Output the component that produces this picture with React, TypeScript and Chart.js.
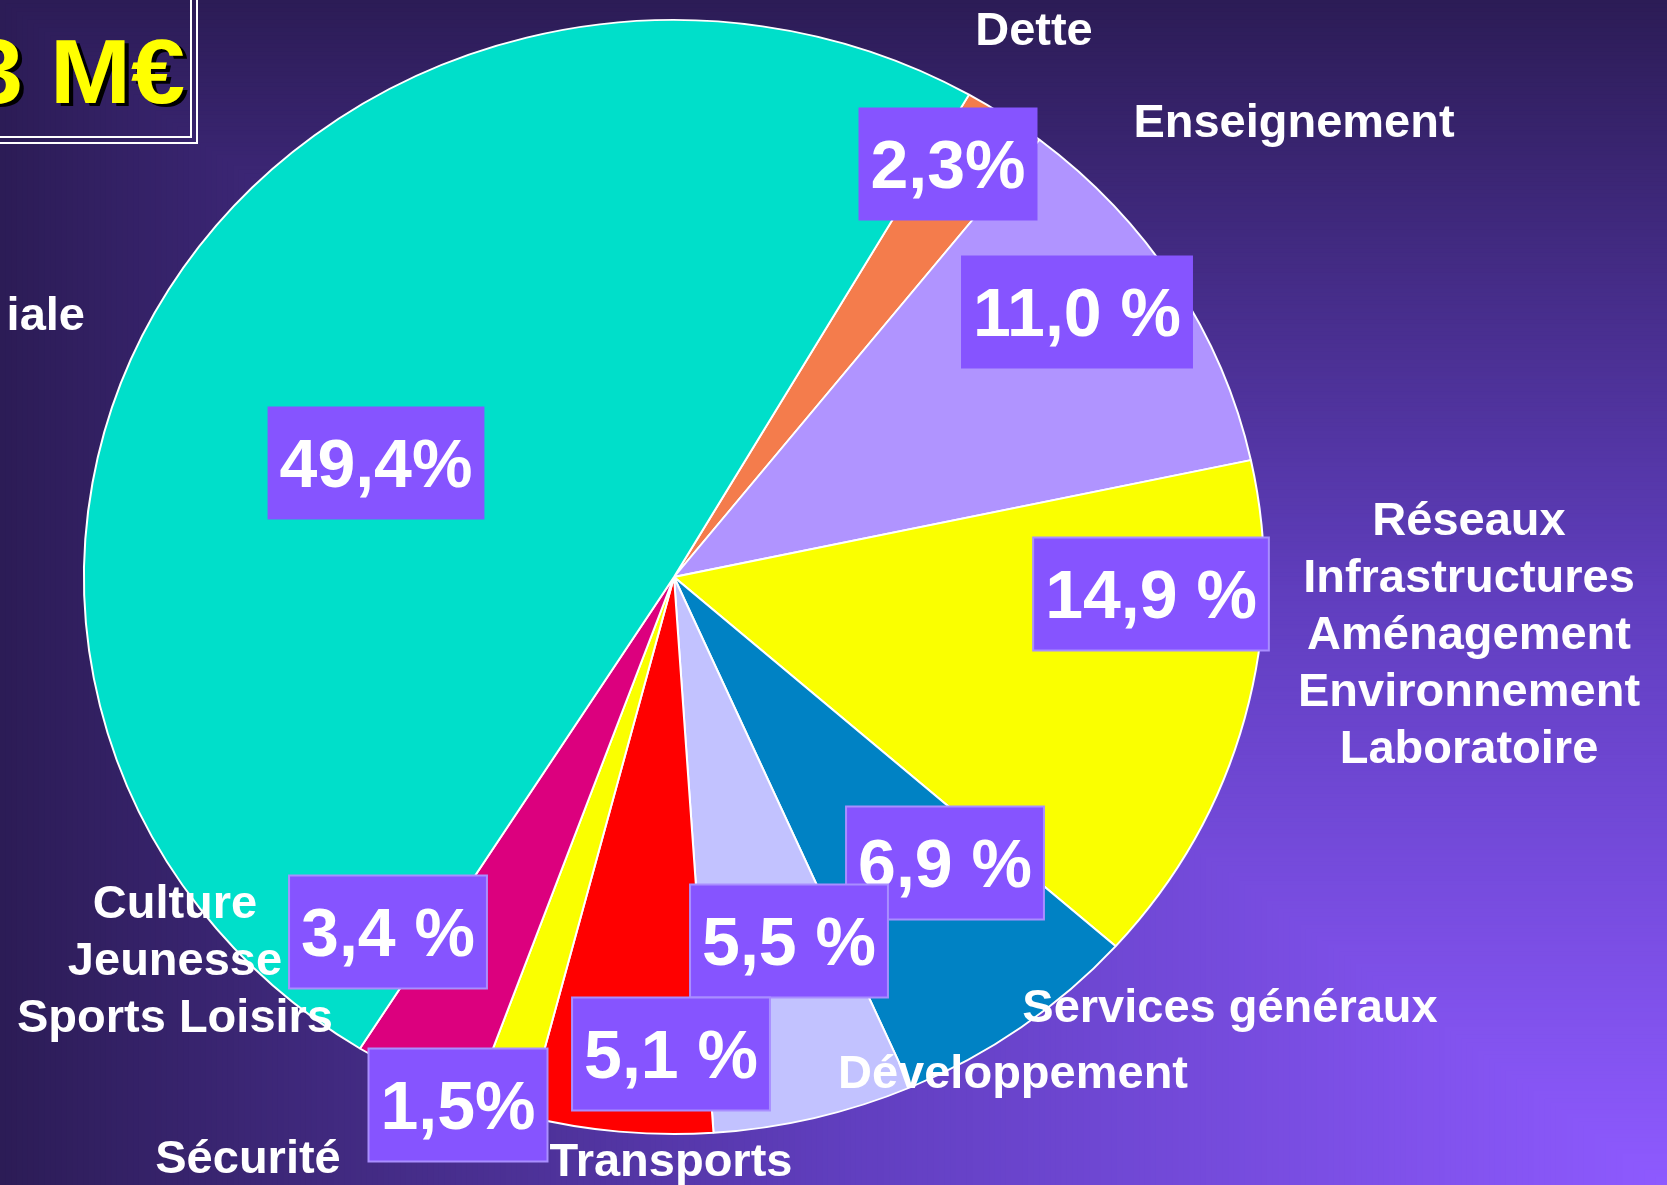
import React, { useEffect, useRef } from "react";
import { Chart, registerables } from "chart.js";

Chart.register(...registerables);

// ---- data ----
const categories = [
  "Dette",
  "Enseignement",
  "Réseaux Infrastructures Aménagement Environnement Laboratoire",
  "Services généraux",
  "Développement",
  "Transports",
  "Sécurité",
  "Culture Jeunesse Sports Loisirs",
  "iale",
];
const shares = [2.3, 11.0, 14.9, 6.9, 5.5, 5.1, 1.5, 3.4, 49.4];
const shareLabels = ["2,3%", "11,0 %", "14,9 %", "6,9 %", "5,5 %", "5,1 %", "1,5%", "3,4 %", "49,4%"];
const categoryLines = [
  ["Dette"],
  ["Enseignement"],
  ["Réseaux", "Infrastructures", "Aménagement", "Environnement", "Laboratoire"],
  ["Services généraux"],
  ["Développement"],
  ["Transports"],
  ["Sécurité"],
  ["Culture", "Jeunesse", "Sports Loisirs"],
  ["iale"],
];
const sliceColors = ["#F47C4C", "#B094FF", "#FAFF00", "#0082C4", "#C2C2FF", "#FF0000", "#FAFF00", "#DC007E", "#00DFCA"];
const titleText = "3 M€";

// ---- layout (styles/positions of annotations) ----
const W = 1667;
const H = 1185;
const PIE_CX = 674;
const PIE_CY = 577;
const PIE_RX = 590;
const PIE_RY = 557;
const FONT = '"Liberation Sans", Arial, sans-serif';
const catLayout = [
  { x: 1034, y: 45, align: "center" },
  { x: 1294, y: 137, align: "center" },
  { x: 1469, y: 535, align: "center" },
  { x: 1230, y: 1022, align: "center" },
  { x: 1013, y: 1088, align: "center" },
  { x: 671, y: 1176, align: "center" },
  { x: 248, y: 1173, align: "center" },
  { x: 175, y: 918, align: "center" },
  { x: 85, y: 330, align: "right" },
];
const boxLayout = [
  { x: 948, y: 164, border: false },
  { x: 1077, y: 312, border: false },
  { x: 1151, y: 594, border: true },
  { x: 945, y: 863, border: true },
  { x: 789, y: 941, border: true },
  { x: 671, y: 1054, border: true },
  { x: 458, y: 1105, border: true },
  { x: 388, y: 932, border: true },
  { x: 376, y: 463, border: false },
];
const boxOrder = [8, 0, 1, 2, 7, 3, 4, 5, 6];

function bgColor(t: number): string {
  const c0 = [142, 90, 255];
  const c1 = [96, 62, 190];
  const c2 = [44, 28, 86];
  let a, b, u;
  if (t < 0.5) { a = c0; b = c1; u = t / 0.5; } else { a = c1; b = c2; u = (t - 0.5) / 0.5; }
  const r = Math.round(a[0] + (b[0] - a[0]) * u);
  const g = Math.round(a[1] + (b[1] - a[1]) * u);
  const bl = Math.round(a[2] + (b[2] - a[2]) * u);
  return `rgb(${r},${g},${bl})`;
}

const backgroundPlugin = {
  id: "bgCorner",
  beforeDraw(chart: any) {
    const ctx = chart.ctx;
    ctx.save();
    const N = 300;
    for (let i = N; i >= 1; i--) {
      const t = i / N;
      ctx.fillStyle = bgColor(t);
      ctx.fillRect(W - t * W, H - t * H, t * W + 1, t * H + 1);
    }
    ctx.restore();
  },
};

const ellipsePlugin = {
  id: "ellipse",
  beforeDatasetsDraw(chart: any) {
    const arc = chart.getDatasetMeta(0).data[0];
    const p = arc.getProps(["x", "y", "outerRadius"], true);
    const ctx = chart.ctx;
    ctx.save();
    ctx.translate(PIE_CX, PIE_CY);
    ctx.scale(PIE_RX / p.outerRadius, PIE_RY / p.outerRadius);
    ctx.translate(-p.x, -p.y);
  },
  afterDatasetsDraw(chart: any) {
    chart.ctx.restore();
  },
};

const annotationsPlugin = {
  id: "annotations",
  afterDraw(chart: any) {
    const ctx = chart.ctx;
    ctx.save();
    // title frame
    ctx.strokeStyle = "#FFFFFF";
    ctx.lineWidth = 2;
    ctx.strokeRect(-20, -20, 217, 163);
    ctx.strokeRect(-20, -20, 211, 157);
    // title text (slightly stretched horizontally)
    ctx.save();
    ctx.translate(185, 103);
    ctx.scale(1.08, 1);
    ctx.font = `bold 90px ${FONT}`;
    ctx.textAlign = "right";
    ctx.textBaseline = "alphabetic";
    ctx.fillStyle = "#000000";
    ctx.fillText(titleText, 4, 3);
    ctx.fillStyle = "#FFFF00";
    ctx.fillText(titleText, 0, 0);
    ctx.restore();

    // category labels
    ctx.font = `bold 47px ${FONT}`;
    ctx.fillStyle = "#FFFFFF";
    ctx.textBaseline = "alphabetic";
    categoryLines.forEach((lines, i) => {
      const L = catLayout[i];
      ctx.textAlign = L.align;
      lines.forEach((ln, j) => {
        ctx.fillText(ln, L.x, L.y + j * 57);
      });
    });

    // percentage boxes
    ctx.font = `bold 68px ${FONT}`;
    ctx.textAlign = "center";
    boxOrder.forEach((i) => {
      const B = boxLayout[i];
      const tw = ctx.measureText(shareLabels[i]).width;
      const bw = tw + 24;
      const bh = 113;
      ctx.fillStyle = "#8654FF";
      ctx.fillRect(B.x - bw / 2, B.y - bh / 2, bw, bh);
      if (B.border) {
        ctx.strokeStyle = "#A98EFF";
        ctx.lineWidth = 2;
        ctx.strokeRect(B.x - bw / 2, B.y - bh / 2, bw, bh);
      }
      ctx.fillStyle = "#FFFFFF";
      ctx.fillText(shareLabels[i], B.x, B.y + 24);
    });
    ctx.restore();
  },
};

export default function App() {
  const ref = useRef<HTMLCanvasElement | null>(null);
  useEffect(() => {
    document.body.style.margin = "0";
    const canvas = ref.current;
    if (!canvas) return;
    const chart = new Chart(canvas, {
      type: "pie",
      data: {
        labels: categories,
        datasets: [
          {
            data: shares,
            backgroundColor: sliceColors,
            borderColor: "#FFFFFF",
            borderWidth: 2,
          },
        ],
      },
      options: {
        responsive: false,
        animation: false,
        devicePixelRatio: 1,
        rotation: 30,
        layout: { padding: { left: 84, right: 403, top: 0, bottom: 0 } },
        plugins: {
          legend: { display: false },
          tooltip: { enabled: false },
        },
      },
      plugins: [backgroundPlugin, ellipsePlugin, annotationsPlugin],
    });
    return () => chart.destroy();
  }, []);
  return (
    <div style={{ width: W, height: H, overflow: "hidden", position: "relative" }}>
      <canvas ref={ref} width={W} height={H} style={{ display: "block", width: W, height: H }} />
    </div>
  );
}
